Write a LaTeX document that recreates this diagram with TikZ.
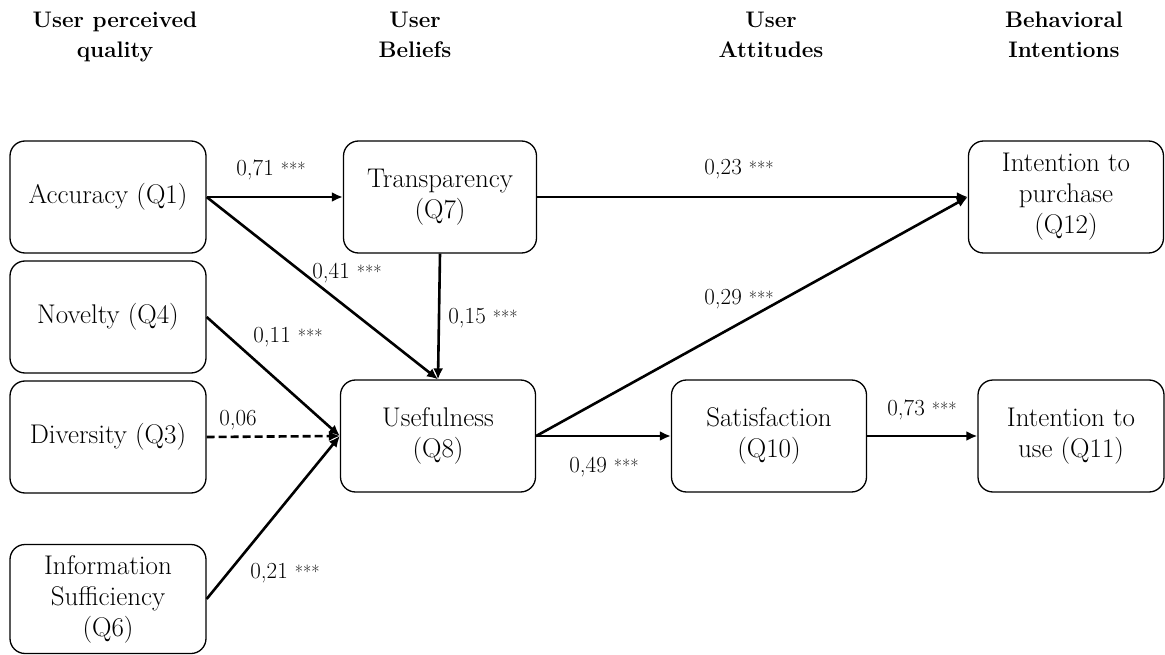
\documentclass[tikz,border=0pt]{standalone}
\usepackage{fontspec}
\usetikzlibrary{arrows.meta}
\newcommand\sigstars{{\fontsize{18}{18}\selectfont ***}}
\begin{document}
\begin{tikzpicture}[x=1pt,y=-1pt,
  box/.style={draw, line width=1.3pt, rounded corners=15pt, minimum height=112pt,
    align=center, font=\fontsize{27}{31}\selectfont, inner sep=0pt},
  link/.style={line width=2.6pt, -{Latex[length=11pt,width=10pt]}},
  coef/.style={font=\fontsize{23}{23}\selectfont, inner sep=0pt, anchor=base},
  head/.style={font=\bfseries\fontsize{22.5}{30}\selectfont, align=center, anchor=base, inner sep=0pt}]
\useasboundingbox (0,0) rectangle (1165,655);

% column headings (anchored on the baseline of their second line)
\node[head] (h1) at (115,58) {User perceived\\quality};
\node[head] (h2) at (415,58) {User\\Beliefs};
\node[head] (h3) at (771,58) {User\\Attitudes};
\node[head] (h4) at (1064,58) {Behavioral\\Intentions};

% constructs
\node[box, minimum width=196pt] (acc) at (108,197) {Accuracy (Q1)};
\node[box, minimum width=196pt] (nov) at (108,317) {Novelty (Q4)};
\node[box, minimum width=196pt] (div) at (108,437) {Diversity (Q3)};
\node[box, minimum width=196pt, minimum height=109pt] (inf) at (108,599) {Information\\Sufficiency\\(Q6)};
\node[box, minimum width=193pt] (tra) at (440,197) {Transparency\\(Q7)};
\node[box, minimum width=195pt] (use) at (438,436) {Usefulness\\(Q8)};
\node[box, minimum width=195pt] (sat) at (769,436) {Satisfaction\\(Q10)};
\node[box, minimum width=195pt] (pur) at (1066,197) {Intention to\\purchase\\(Q12)};
\node[box, minimum width=186pt] (itu) at (1071,436) {Intention to\\use (Q11)};

% paths
\draw[link] (acc.east) -- (tra.west);
\draw[link] (acc.east) -- (use.north);
\draw[link] (tra.south) -- (use.north);
\draw[link] (nov.east) -- (use.west);
\draw[link, dash pattern=on 8pt off 4pt] (div.east) -- (use.west);
\draw[link] (inf.east) -- (use.west);
\draw[link] (tra.east) -- (pur.west);
\draw[link] (use.east) -- (pur.west);
\draw[link] (use.east) -- (sat.west);
\draw[link] (sat.east) -- (itu.west);

% path coefficients
\node[coef] (c1) at (271,176) {0,71 \sigstars};
\node[coef] (c2) at (347,278) {0,41 \sigstars};
\node[coef] (c3) at (288,342) {0,11 \sigstars};
\node[coef] (c4) at (483,323) {0,15 \sigstars};
\node[coef] (c5) at (238,425) {0,06};
\node[coef] (c6) at (285,578) {0,21 \sigstars};
\node[coef] (c7) at (739,175) {0,23 \sigstars};
\node[coef] (c8) at (739,305) {0,29 \sigstars};
\node[coef] (c9) at (604,472) {0,49 \sigstars};
\node[coef] (c10) at (922,415) {0,73 \sigstars};
\end{tikzpicture}
\end{document}
